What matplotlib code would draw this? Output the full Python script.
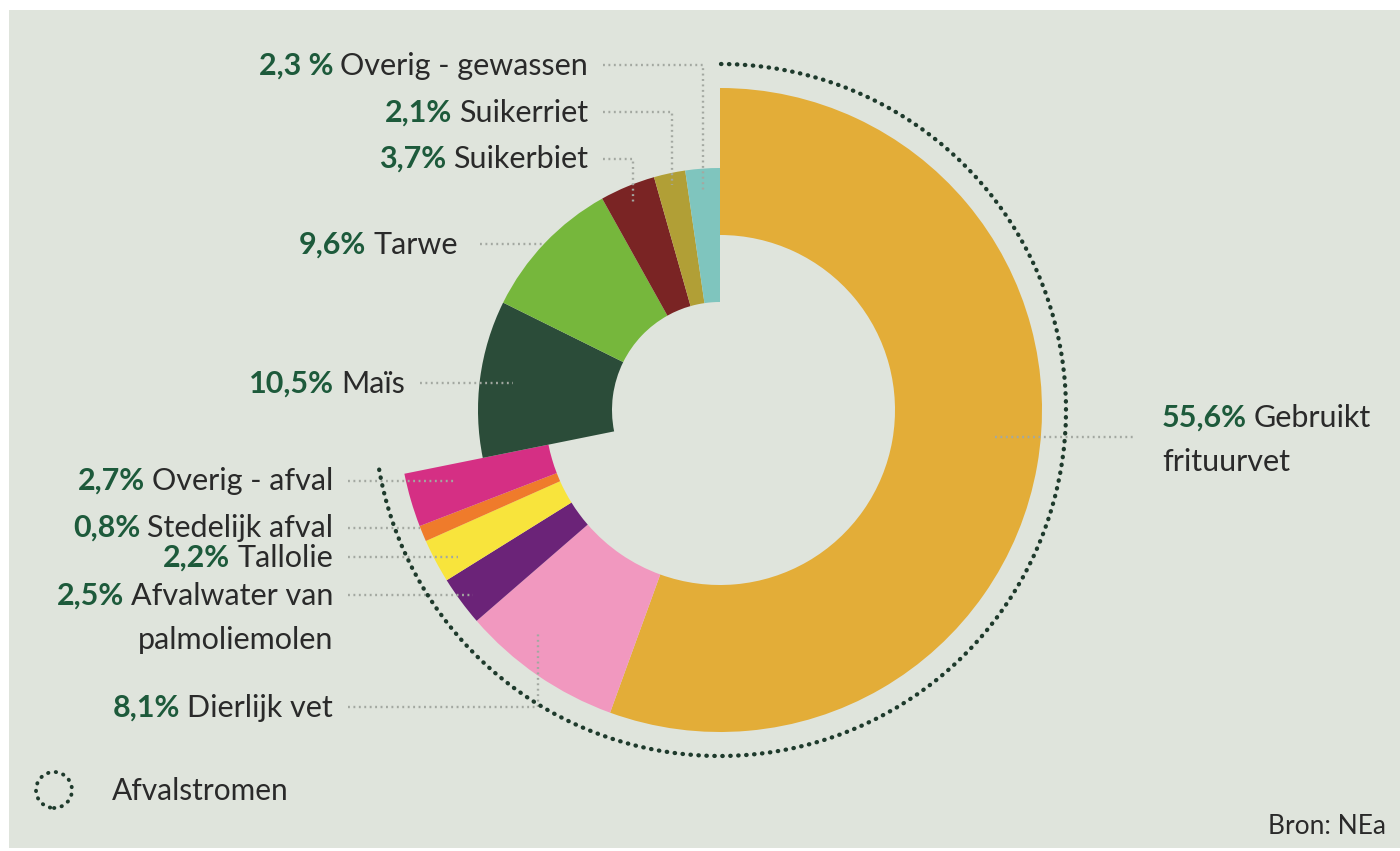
import matplotlib
matplotlib.use("Agg")
import matplotlib.pyplot as plt
from matplotlib.patches import Arc, Circle, Rectangle

W, H = 1400, 851

# ── Data ──────────────────────────────────────────────────────
names = ["Gebruikt\nfrituurvet", "Dierlijk vet", "Afvalwater van\npalmoliemolen",
         "Tallolie", "Stedelijk afval", "Overig - afval",
         "Maïs", "Tarwe", "Suikerbiet", "Suikerriet", "Overig - gewassen"]
values = [55.6, 8.1, 2.5, 2.2, 0.8, 2.7, 10.5, 9.6, 3.7, 2.1, 2.3]
pct_labels = ["55,6%", "8,1%", "2,5%", "2,2%", "0,8%", "2,7%",
              "10,5%", "9,6%", "3,7%", "2,1%", "2,3 %"]
is_waste = [True, True, True, True, True, True,
            False, False, False, False, False]
colors = ["#e3ad38", "#f198bf", "#6b2378", "#f8e43c", "#ef7b2b", "#d52f84",
          "#2b4c39", "#76b73c", "#7a2424", "#b19f36", "#7fc5be"]

# ── Layout (pixels, y from top) ───────────────────────────────
CX, CY = 720, 410
R_WASTE, W_WASTE = 322, 147
R_CROP, W_CROP = 242, 134
# side, text x, text y (centre of first line), leader points
label_layout = [
    ("left", 1162, 417, [(995, 437), (1135, 437)]),
    ("right", 333, 707, [(348, 707), (538, 707), (538, 633)]),
    ("right", 333, 595, [(348, 595), (473, 595)]),
    ("right", 333, 557, [(348, 557), (458, 557)]),
    ("right", 333, 527, [(348, 528), (420, 528)]),
    ("right", 333, 480, [(348, 481), (455, 481)]),
    ("right", 405, 383, [(420, 383), (513, 383)]),
    ("right", 458, 244, [(480, 244), (545, 244)]),
    ("right", 588, 158, [(603, 159), (633, 159), (633, 205)]),
    ("right", 588, 112, [(603, 112), (672, 112), (672, 185)]),
    ("right", 588, 65, [(603, 65), (703, 65), (703, 190)]),
]

BG = "#dfe4dc"
GREEN = "#1d5a3b"
TXT = "#2a2a2a"
DOTS = "#1e3a2c"
FONT = "Lato"
FS = 22
LINE_H = 44


def Y(y):
    return H - y


fig = plt.figure(figsize=(W / 100, H / 100), dpi=100, facecolor="white")
ax = fig.add_axes([0, 0, 1, 1])
ax.axis("off")

ax.add_patch(Rectangle((9, Y(848)), W - 9, 838, facecolor=BG, edgecolor="none", zorder=0))

# twee ringen: afvalstromen (buiten) en gewassen (binnen)
waste_cols = [c if w else "none" for c, w in zip(colors, is_waste)]
crop_cols = ["none" if w else c for c, w in zip(colors, is_waste)]
ax.pie(values, radius=R_WASTE, center=(CX, Y(CY)), startangle=90, counterclock=False,
       colors=waste_cols, wedgeprops=dict(width=W_WASTE, linewidth=0))
ax.pie(values, radius=R_CROP, center=(CX, Y(CY)), startangle=90, counterclock=False,
       colors=crop_cols, wedgeprops=dict(width=W_CROP, linewidth=0))

# gestippelde boog rond de afvalstromen
waste_share = sum(v for v, w in zip(values, is_waste) if w) / sum(values)
end_angle = 90 - waste_share * 360 - 1.5
ax.add_patch(Arc((CX, Y(CY)), 2 * 346, 2 * 346, theta1=end_angle, theta2=90,
                 color=DOTS, lw=3.1, linestyle=(0, (0.1, 1.75)),
                 capstyle="round", zorder=3))

ax.set_xlim(0, W)
ax.set_ylim(0, H)
ax.set_aspect("auto")

renderer = fig.canvas.get_renderer()

for name, pl, (side, tx, ty, pts) in zip(names, pct_labels, label_layout):
    xs = [p[0] for p in pts]
    ys = [Y(p[1]) for p in pts]
    ax.plot(xs, ys, color="#a3a8a1", lw=1.7, linestyle=(0, (0.8, 1.5)),
            dash_capstyle="butt", zorder=2)

    lines = name.split("\n")
    base = Y(ty + 10)
    if side == "right":
        t = ax.text(tx, base, lines[0], ha="right", va="baseline",
                    fontsize=FS, color=TXT, family=FONT)
        bb = t.get_window_extent(renderer)
        ax.text(bb.x0 - 7, base, pl, ha="right", va="baseline", fontsize=FS,
                color=GREEN, family=FONT, fontweight="bold")
        for k, ln in enumerate(lines[1:], start=1):
            ax.text(tx, base - k * LINE_H, ln, ha="right", va="baseline",
                    fontsize=FS, color=TXT, family=FONT)
    else:
        p = ax.text(tx, base, pl, ha="left", va="baseline", fontsize=FS,
                    color=GREEN, family=FONT, fontweight="bold")
        bb = p.get_window_extent(renderer)
        ax.text(bb.x1 + 7, base, lines[0], ha="left", va="baseline",
                fontsize=FS, color=TXT, family=FONT)
        for k, ln in enumerate(lines[1:], start=1):
            ax.text(tx, base - k * LINE_H, ln, ha="left", va="baseline",
                    fontsize=FS, color=TXT, family=FONT)

# legenda en bron
ax.add_patch(Circle((54, Y(790)), 18, fill=False, edgecolor=DOTS, lw=2.8,
                    linestyle=(0, (0.1, 1.9)), capstyle="round"))
ax.text(112, Y(800), "Afvalstromen", ha="left", va="baseline", fontsize=21.5,
        color=TXT, family=FONT)
ax.text(1386, Y(834), "Bron: NEa", ha="right", va="baseline", fontsize=19,
        color=TXT, family=FONT)

fig.savefig("out.png", dpi=100, facecolor="white")
